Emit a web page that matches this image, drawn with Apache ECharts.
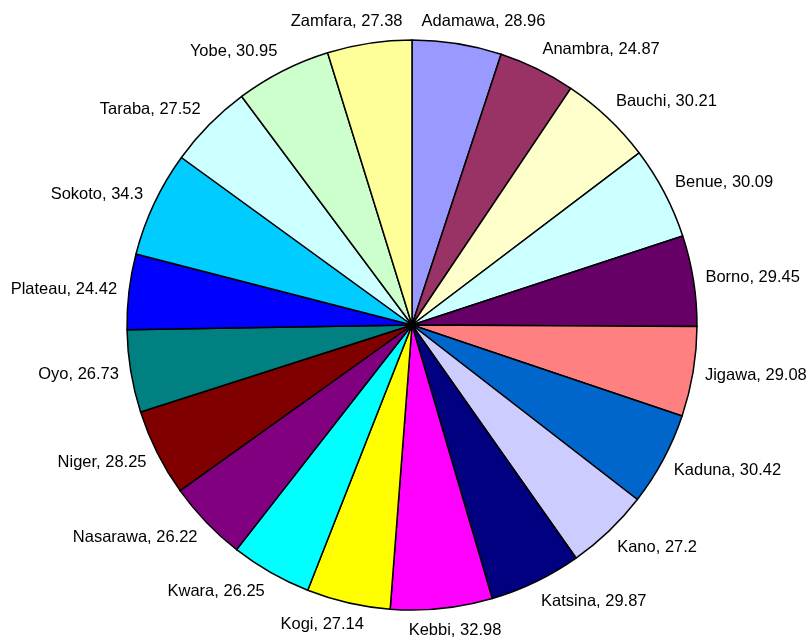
<!DOCTYPE html>
<html>
<head>
<meta charset="utf-8">
<script src="https://cdn.jsdelivr.net/npm/echarts@6/dist/echarts.min.js"></script>
<style>
  html, body { margin: 0; padding: 0; background: #fff; }
  #chart { width: 810px; height: 641px; }
</style>
</head>
<body>
<div id="chart"></div>
<script>
// states, clockwise from 12 o'clock
const states = ['Adamawa', 'Anambra', 'Bauchi', 'Benue', 'Borno', 'Jigawa', 'Kaduna', 'Kano',
  'Katsina', 'Kebbi', 'Kogi', 'Kwara', 'Nasarawa', 'Niger', 'Oyo', 'Plateau', 'Sokoto',
  'Taraba', 'Yobe', 'Zamfara']
const values = [28.96, 24.87, 30.21, 30.09, 29.45, 29.08, 30.42, 27.2, 29.87, 32.98, 27.14,
  26.25, 26.22, 28.25, 26.73, 24.42, 34.3, 27.52, 30.95, 27.38]
const colors = ['#9999FF', '#993366', '#FFFFCC', '#CCFFFF', '#660066', '#FF8080', '#0066CC',
  '#CCCCFF', '#000080', '#FF00FF', '#FFFF00', '#00FFFF', '#800080', '#800000', '#008080',
  '#0000FF', '#00CCFF', '#CCFFFF', '#CCFFCC', '#FFFF99']

const cx = 412
const cy = 325
const R = 285

// mid angle of each slice (radians, clockwise from top) – used only to place labels
const total = values.reduce((a, b) => a + b, 0)
let acc = 0
const midAngles = values.map((v) => {
  const m = ((acc + v / 2) / total) * Math.PI * 2
  acc += v
  return m
})

const chart = echarts.init(document.getElementById('chart'))
chart.setOption({
  backgroundColor: '#fff',
  animation: false,
  series: [
    {
      type: 'pie',
      center: [cx, cy],
      radius: R,
      startAngle: 90,
      clockwise: true,
      avoidLabelOverlap: false,
      data: states.map((name, i) => ({
        name: name,
        value: values[i],
        itemStyle: { color: colors[i] },
      })),
      itemStyle: { borderColor: '#000', borderWidth: 1.5 },
      label: {
        show: true,
        position: 'outside',
        formatter: '{b}, {c}',
        fontFamily: 'Liberation Sans, Arial, sans-serif',
        fontSize: 16.5,
        color: '#000',
      },
      labelLine: { show: false, length: 12, length2: 0 },
      labelLayout: (p) => {
        // put the label just outside the rim, sliding from centred (top/bottom)
        // to left/right aligned (sides)
        const th = midAngles[p.dataIndex]
        const s = Math.sin(th)
        const c = Math.cos(th)
        const r = R + 12
        const px = cx + r * s
        const py = cy - r * c
        const w = p.labelRect.width
        const f = Math.max(-1, Math.min(1, s * 2.5))
        return {
          x: px + (f * w) / 2,
          y: py - c * 10,
          align: 'center',
          verticalAlign: 'middle',
        }
      },
      emphasis: { disabled: true },
    },
  ],
})
</script>
</body>
</html>
